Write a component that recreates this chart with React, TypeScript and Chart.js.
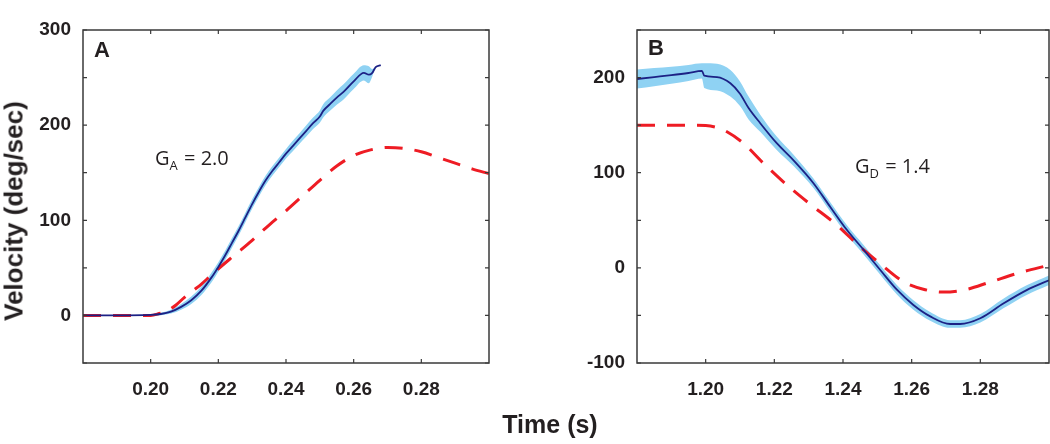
import React, { useEffect, useRef } from 'react';
import { Chart, registerables } from 'chart.js';

Chart.register(...registerables);

const FONT = '"Liberation Sans", Arial, Helvetica, sans-serif';
const ANNOT_FONT = '"Open Sans", "Noto Sans", sans-serif';
const TEXT = '#231f20';
const RED = '#ee1c24';
const NAVY = '#1c2185';
const BAND = '#8fd2f3';

// ---------- Panel A (acceleration) ----------
const tMeanA = [0.18, 0.19, 0.2, 0.203, 0.206, 0.209, 0.212, 0.215, 0.218, 0.22, 0.222, 0.224, 0.226, 0.228, 0.23, 0.232, 0.234, 0.236, 0.238, 0.24, 0.242, 0.244, 0.246, 0.248, 0.25, 0.251, 0.253, 0.255, 0.257, 0.26, 0.263, 0.2645, 0.2655, 0.2665, 0.268];
const vMeanA = [0, 0, 0.5, 1.5, 4, 9, 16, 26, 40, 51, 63, 76, 89, 103, 117, 130, 142, 152, 161, 170, 178, 186, 194, 202, 209, 215, 222, 229, 235, 246, 255, 253, 255, 261, 263];
const sdA = [0.5, 0.5, 0.8, 1.2, 2, 3, 4, 4.5, 5, 5, 5, 5, 5, 5, 5, 5, 5, 5, 5, 5, 5.5, 5.5, 6, 6, 6.5, 7, 7, 7.5, 8, 8, 8, 9, 4, 0, 0];
const tModelA = [0.18, 0.19, 0.2, 0.2025, 0.205, 0.2075, 0.21, 0.2125, 0.215, 0.2175, 0.22, 0.225, 0.23, 0.235, 0.24, 0.245, 0.25, 0.255, 0.26, 0.265, 0.27, 0.275, 0.28, 0.285, 0.29, 0.295, 0.3];
const vModelA = [0, 0, 0, 2, 5, 11, 19, 26, 33, 41, 49, 64, 79, 95, 110, 126, 142, 157, 168, 174, 176.5, 175.5, 172, 166, 160, 154, 149];
const xRangeA = [0.18, 0.3];
const yRangeA = [-50, 300];
const xTicksA = [0.2, 0.22, 0.24, 0.26, 0.28];
const yTicksA = [-50, 0, 50, 100, 150, 200, 250, 300];
const yLabelsA = [0, 100, 200, 300];

// ---------- Panel B (deceleration) ----------
const tMeanB = [1.18, 1.185, 1.19, 1.195, 1.1989, 1.1996, 1.2033, 1.2072, 1.21, 1.2125, 1.2159, 1.2207, 1.2256, 1.2314, 1.2363, 1.2411, 1.246, 1.2508, 1.2557, 1.2605, 1.2654, 1.2712, 1.2741, 1.28, 1.2867, 1.2935, 1.3];
const vMeanB = [198.5, 200.5, 202.5, 204.8, 207, 202, 200.5, 194, 183, 168, 152, 131, 113, 89, 64, 40, 19, -2, -23, -39, -51, -59, -59, -53, -37.5, -23.4, -13];
const sdB = [10, 9.5, 9, 8.5, 8, 13, 14, 14, 13, 12, 9, 7, 6, 5, 5, 5, 5, 5, 5, 5, 4.5, 4, 4, 4.5, 5, 5, 5];
const tModelB = [1.18, 1.19, 1.2, 1.2033, 1.2062, 1.211, 1.2168, 1.2237, 1.2304, 1.2382, 1.245, 1.2508, 1.2576, 1.2634, 1.2692, 1.275, 1.2828, 1.2906, 1.3];
const vModelB = [150, 150, 149.5, 147.5, 143, 131, 110, 87, 67, 45, 22, 4.5, -14.5, -22.5, -25.5, -23.5, -15, -6, 2.8];
const xRangeB = [1.18, 1.3];
const yRangeB = [-100, 250];
const xTicksB = [1.2, 1.22, 1.24, 1.26, 1.28];
const yTicksB = [-100, -50, 0, 50, 100, 150, 200, 250];
const yLabelsB = [-100, 0, 100, 200];

const framePlugin = {
  id: 'frame',
  afterDatasetsDraw(chart: any, _args: any, opts: any) {
    const { ctx, chartArea: a, scales } = chart;
    ctx.save();
    ctx.strokeStyle = '#3a3a3a';
    ctx.lineWidth = 1.2;
    ctx.beginPath();
    for (const t of scales.x.ticks) {
      const px = scales.x.getPixelForValue(t.value);
      ctx.moveTo(px, a.bottom);
      ctx.lineTo(px, a.bottom - 4);
      ctx.moveTo(px, a.top);
      ctx.lineTo(px, a.top + 4);
    }
    for (const t of scales.y.ticks) {
      const py = scales.y.getPixelForValue(t.value);
      ctx.moveTo(a.left, py);
      ctx.lineTo(a.left + 4, py);
      ctx.moveTo(a.right, py);
      ctx.lineTo(a.right - 4, py);
    }
    ctx.stroke();
    ctx.lineWidth = 1.5;
    ctx.strokeRect(a.left, a.top, a.right - a.left, a.bottom - a.top);

    ctx.fillStyle = TEXT;
    ctx.textAlign = 'left';
    ctx.textBaseline = 'alphabetic';
    ctx.font = `bold 22px ${FONT}`;
    ctx.fillText(opts.letter, a.left + opts.letterDx, a.top + opts.letterDy);

    const x0 = scales.x.getPixelForValue(opts.annotX);
    const y0 = scales.y.getPixelForValue(opts.annotY);
    ctx.font = `20px ${ANNOT_FONT}`;
    ctx.fillText('G', x0, y0);
    let w = ctx.measureText('G').width;
    ctx.font = `13px ${ANNOT_FONT}`;
    ctx.fillText(opts.sub, x0 + w, y0 + 5);
    w += ctx.measureText(opts.sub).width;
    ctx.font = `20px ${ANNOT_FONT}`;
    ctx.fillText(' = ' + opts.value, x0 + w + 1, y0);
    ctx.restore();
  },
};

function pts(t: number[], v: number[]) {
  return t.map((x, i) => ({ x, y: v[i] }));
}

function makeConfig(p: any) {
  const upper = p.tMean.map((x: number, i: number) => ({ x, y: p.vMean[i] + p.sd[i] }));
  const lower = p.tMean.map((x: number, i: number) => ({ x, y: p.vMean[i] - p.sd[i] }));
  return {
    type: 'line',
    data: {
      datasets: [
        {
          data: upper,
          borderWidth: 0,
          borderColor: 'rgba(0,0,0,0)',
          backgroundColor: BAND,
          fill: '+1',
          pointRadius: 0,
          cubicInterpolationMode: 'monotone',
          order: 3,
        },
        {
          data: lower,
          borderWidth: 0,
          borderColor: 'rgba(0,0,0,0)',
          fill: false,
          pointRadius: 0,
          cubicInterpolationMode: 'monotone',
          order: 3,
        },
        {
          data: pts(p.tModel, p.vModel),
          borderColor: RED,
          borderWidth: 3,
          borderDash: [18, 12],
          fill: false,
          pointRadius: 0,
          cubicInterpolationMode: 'monotone',
          order: 2,
        },
        {
          data: pts(p.tMean, p.vMean),
          borderColor: NAVY,
          borderWidth: 1.8,
          fill: false,
          pointRadius: 0,
          cubicInterpolationMode: 'monotone',
          order: 1,
        },
      ],
    },
    options: {
      responsive: false,
      animation: false,
      events: [],
      layout: { padding: { left: 0, right: p.padRight, top: 30, bottom: 0 } },
      plugins: {
        legend: { display: false },
        tooltip: { enabled: false },
        frame: {
          letter: p.letter,
          letterDx: p.letterDx,
          letterDy: p.letterDy,
          annotX: p.annotX,
          annotY: p.annotY,
          sub: p.sub,
          value: p.value,
        },
      },
      scales: {
        x: {
          type: 'linear',
          min: p.xRange[0],
          max: p.xRange[1],
          grid: { display: false, drawTicks: false },
          border: { display: false },
          afterBuildTicks: (s: any) => {
            s.ticks = p.xTicks.map((v: number) => ({ value: v }));
          },
          afterFit: (s: any) => {
            s.height = 81;
          },
          ticks: {
            padding: 15,
            color: TEXT,
            font: { family: FONT, size: 19, weight: 'bold' },
            maxRotation: 0,
            autoSkip: false,
            callback: (v: number) => Number(v).toFixed(2),
          },
        },
        y: {
          type: 'linear',
          min: p.yRange[0],
          max: p.yRange[1],
          grid: { display: false, drawTicks: false },
          border: { display: false },
          afterBuildTicks: (s: any) => {
            s.ticks = p.yTicks.map((v: number) => ({ value: v }));
          },
          afterFit: (s: any) => {
            s.width = p.yAxisWidth;
          },
          ticks: {
            padding: 12,
            color: TEXT,
            font: { family: FONT, size: 19, weight: 'bold' },
            autoSkip: false,
            callback: (v: number) => (p.yLabels.includes(v) ? String(v) : ''),
          },
        },
      },
    },
    plugins: [framePlugin],
  };
}

const panelA = {
  tMean: tMeanA, vMean: vMeanA, sd: sdA, tModel: tModelA, vModel: vModelA,
  xRange: xRangeA, yRange: yRangeA, xTicks: xTicksA, yTicks: yTicksA, yLabels: yLabelsA,
  yAxisWidth: 83, padRight: 41, letter: 'A', letterDx: 11, letterDy: 27,
  annotX: 0.2013, annotY: 158, sub: 'A', value: '2.0',
};

const panelB = {
  tMean: tMeanB, vMean: vMeanB, sd: sdB, tModel: tModelB, vModel: vModelB,
  xRange: xRangeB, yRange: yRangeB, xTicks: xTicksB, yTicks: yTicksB, yLabels: yLabelsB,
  yAxisWidth: 107, padRight: 1, letter: 'B', letterDx: 11, letterDy: 25,
  annotX: 1.2435, annotY: 100, sub: 'D', value: '1.4',
};

export default function App() {
  const refA = useRef<HTMLCanvasElement>(null);
  const refB = useRef<HTMLCanvasElement>(null);

  useEffect(() => {
    const cA = new Chart(refA.current as any, makeConfig(panelA) as any);
    const cB = new Chart(refB.current as any, makeConfig(panelB) as any);
    return () => {
      cA.destroy();
      cB.destroy();
    };
  }, []);

  return (
    <div style={{ position: 'absolute', left: 0, top: 0, width: 1050, height: 444, overflow: 'hidden', background: '#fff' }}>
      <canvas ref={refA} width={530} height={444} style={{ position: 'absolute', left: 0, top: 0 }} />
      <canvas ref={refB} width={520} height={444} style={{ position: 'absolute', left: 530, top: 0 }} />
      <div
        style={{
          position: 'absolute',
          left: 14,
          top: 211,
          transform: 'translate(-50%, -50%) rotate(-90deg)',
          whiteSpace: 'nowrap',
          font: `bold 26px ${FONT}`,
          color: TEXT,
        }}
      >
        Velocity (deg/sec)
      </div>
      <div
        style={{
          position: 'absolute',
          left: 550,
          top: 424,
          transform: 'translate(-50%, -50%)',
          whiteSpace: 'nowrap',
          font: `bold 25px ${FONT}`,
          color: TEXT,
        }}
      >
        Time (s)
      </div>
    </div>
  );
}
